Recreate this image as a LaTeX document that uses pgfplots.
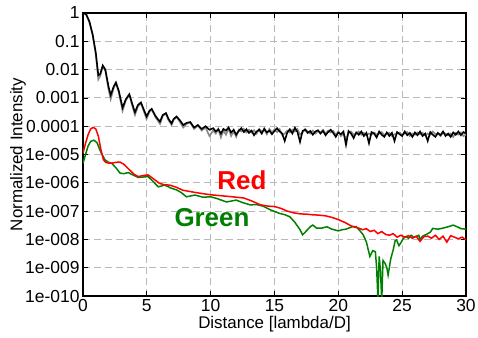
\documentclass[border=0pt]{standalone}
\usepackage{pgfplots}
\pgfplotsset{compat=1.18}
\usepackage{pgfplotstable}
\usepackage{fontspec}
\setmainfont{Liberation Sans}
\definecolor{gridgray}{RGB}{185,185,185}
\definecolor{dgreen}{RGB}{0,128,0}
\definecolor{lgray}{RGB}{135,135,135}

\pgfplotstableread{
x y
0 1
0.25 0.88
0.5 0.48
0.75 0.17
1.0 0.035
1.2 4.5e-3
1.35 6e-3
1.55 1.3e-2
1.75 9e-3
2.0 2e-3
2.17 9e-4
2.4 2.2e-3
2.58 3.3e-3
2.8 1.6e-3
3.1 3.5e-4
3.35 8e-4
3.63 1.3e-3
3.85 5.5e-4
4.07 2.5e-4
4.3 5e-4
4.54 6.5e-4
4.75 3.5e-4
4.98 1.8e-4
5.2 3.2e-4
5.38 3.9e-4
5.7 2e-4
6.03 1.2e-4
6.25 2.3e-4
6.5 2.8e-4
6.7 1.6e-4
6.94 1.1e-4
7.1 1.7e-4
7.33 2.1e-4
7.6 1.4e-4
7.85 9e-5
8.1 1.2e-4
8.4 1.35e-4
8.7 8e-5
9.0 1.05e-4
9.3 7e-5
9.6 9e-5
9.9 4.5e-5
10.2 7e-5
10.4 5.5e-5
10.6 8e-5
10.8 4e-5
11.0 7e-5
11.2 5e-5
11.4 8.5e-5
11.6 4.5e-5
11.8 6.5e-5
12.0 4.2e-5
12.2 7.5e-5
12.4 6.5e-5
12.6 8e-5
12.8 6e-5
13.0 7.5e-5
13.2 6e-5
13.4 7.2e-5
13.6 5.5e-5
13.8 8e-5
14.0 6.5e-5
14.2 7.5e-5
14.4 5.2e-5
14.6 8e-5
14.8 6e-5
15.0 7.5e-5
15.2 6.2e-5
15.4 7.8e-5
15.6 5e-5
15.8 5.5e-5
16.0 7e-5
16.2 6e-5
16.4 7.5e-5
16.6 6.5e-5
16.8 7.8e-5
17.0 5e-5
17.2 6e-5
17.4 8e-5
17.6 6.5e-5
17.8 5.5e-5
18.0 7e-5
18.2 5.5e-5
18.4 6.8e-5
18.6 6e-5
18.8 7.5e-5
19.0 5.5e-5
19.2 7e-5
19.4 6e-5
19.6 6.8e-5
19.8 5e-5
20.0 6.5e-5
20.2 4.5e-5
20.4 5.5e-5
20.6 3.5e-5
20.8 5.8e-5
21.0 6.5e-5
21.2 5e-5
21.4 5.5e-5
21.6 6.5e-5
21.8 5e-5
22.0 5.8e-5
22.2 4.8e-5
22.4 5.5e-5
22.6 5e-5
22.8 6e-5
23.0 5e-5
23.2 5.5e-5
23.4 6.2e-5
23.6 4.8e-5
23.8 5.5e-5
24.0 5.8e-5
24.2 4.5e-5
24.4 5.2e-5
24.6 5.5e-5
24.8 6e-5
25.0 5e-5
25.2 5.5e-5
25.4 6.2e-5
25.6 4.5e-5
25.8 5.5e-5
26.0 5e-5
26.2 6e-5
26.4 5.2e-5
26.6 5.8e-5
26.8 4.8e-5
27.0 5.5e-5
27.2 5e-5
27.4 6.5e-5
27.6 5.2e-5
27.8 5.5e-5
28.0 4.5e-5
28.2 5.8e-5
28.4 5.5e-5
28.6 4.8e-5
28.8 5.5e-5
29.0 4.2e-5
29.2 5.8e-5
29.4 5e-5
29.6 6e-5
29.8 4.5e-5
30.0 5e-5
}\graydata

\pgfplotstableread{
x y
0 1
0.25 0.9
0.5 0.5
0.75 0.18
1.0 0.04
1.2 6.3e-3
1.35 7e-3
1.55 1.4e-2
1.75 1e-2
2.0 2.5e-3
2.17 1.26e-3
2.4 2.5e-3
2.58 3.5e-3
2.8 1.8e-3
3.1 4.5e-4
3.35 8.9e-4
3.63 1.35e-3
3.85 6.3e-4
4.07 3.1e-4
4.3 5.6e-4
4.54 6.9e-4
4.75 4e-4
4.98 2.2e-4
5.2 3.5e-4
5.38 4.1e-4
5.7 2.2e-4
6.03 1.45e-4
6.25 2.5e-4
6.5 2.9e-4
6.7 1.8e-4
6.94 1.26e-4
7.1 1.8e-4
7.33 2.2e-4
7.6 1.6e-4
7.85 1.1e-4
8.1 1.3e-4
8.4 1.4e-4
8.7 9e-5
9.0 1.1e-4
9.3 8e-5
9.6 1e-4
9.9 7.5e-5
10.2 8.5e-5
10.4 6.5e-5
10.6 7.8e-5
10.8 5.5e-5
11.0 8e-5
11.2 7e-5
11.4 9e-5
11.6 6e-5
11.8 7.5e-5
12.0 5e-5
12.2 6.8e-5
12.4 8.5e-5
12.6 6.2e-5
12.8 7.8e-5
13.0 5.8e-5
13.2 7e-5
13.4 4.8e-5
13.6 6.5e-5
13.8 7.5e-5
14.0 5.5e-5
14.2 8.2e-5
14.4 6e-5
14.6 7e-5
14.8 5.2e-5
15.0 6.8e-5
15.2 8.5e-5
15.4 6.5e-5
15.6 5.5e-5
15.8 3e-5
16.0 6e-5
16.2 7.8e-5
16.4 5.5e-5
16.6 8.8e-5
16.8 6.2e-5
17.0 2.8e-5
17.2 6.8e-5
17.4 7.5e-5
17.6 5.8e-5
17.8 6.8e-5
18.0 5e-5
18.2 6.5e-5
18.4 7.2e-5
18.6 5.5e-5
18.8 6.8e-5
19.0 4.8e-5
19.2 6.2e-5
19.4 7.5e-5
19.6 5.8e-5
19.8 4.2e-5
20.0 6e-5
20.2 5.2e-5
20.4 6.5e-5
20.6 2.2e-5
20.8 6.8e-5
21.0 5.5e-5
21.2 3.8e-5
21.4 6e-5
21.6 5e-5
21.8 6.5e-5
22.0 4.5e-5
22.2 5.8e-5
22.4 2.5e-5
22.6 6.2e-5
22.8 5.5e-5
23.0 4e-5
23.2 6.5e-5
23.4 5e-5
23.6 4.2e-5
23.8 6e-5
24.0 4.5e-5
24.2 5.8e-5
24.4 3e-5
24.6 6.2e-5
24.8 5.2e-5
25.0 4.5e-5
25.2 6.5e-5
25.4 4.8e-5
25.6 5.8e-5
25.8 4.2e-5
26.0 6e-5
26.2 4.8e-5
26.4 6.5e-5
26.6 4.5e-5
26.8 5.5e-5
27.0 3e-5
27.2 6.2e-5
27.4 5e-5
27.6 4.2e-5
27.8 5.8e-5
28.0 4.8e-5
28.2 6.5e-5
28.4 4.5e-5
28.6 5.5e-5
28.8 4.2e-5
29.0 6e-5
29.2 5e-5
29.4 6.5e-5
29.6 4.8e-5
29.8 6.2e-5
30.0 5.5e-5
}\blackdata

\pgfplotstableread{
x y
0 1.1e-5
0.2 2.5e-5
0.4 5e-5
0.6 8e-5
0.8 9.1e-5
1.0 8e-5
1.2 4.5e-5
1.4 1.5e-5
1.6 6.5e-6
1.8 5.2e-6
2.0 5e-6
2.3 5e-6
2.6 5.3e-6
2.9 5.4e-6
3.2 4.5e-6
3.6 3e-6
4.0 2e-6
4.33 1.66e-6
4.7 1.8e-6
5.1 1.9e-6
5.5 1.4e-6
6.0 9.5e-7
6.4 8.5e-7
6.8 8.3e-7
7.3 7e-7
7.8 5.5e-7
8.4 4.9e-7
9.0 4.4e-7
9.6 4e-7
10.2 3.7e-7
10.8 3.5e-7
11.4 3.3e-7
12.0 3.1e-7
12.6 2.9e-7
13.2 2.3e-7
13.9 1.66e-7
14.5 1.5e-7
15.0 1.45e-7
15.5 1.25e-7
16.0 1e-7
16.5 8.7e-8
17.0 8e-8
17.5 7.8e-8
18.0 7.4e-8
18.5 7.2e-8
19.0 6.8e-8
19.5 6e-8
20.0 5e-8
20.5 4e-8
21.0 3e-8
21.3 2.7e-8
21.6 2.5e-8
21.9 2.2e-8
22.2 2.4e-8
22.5 1.9e-8
22.8 2.1e-8
23.1 1.6e-8
23.4 1.9e-8
23.7 1.5e-8
24.0 1.4e-8
24.3 1.6e-8
24.6 1.2e-8
24.9 1.4e-8
25.2 1.2e-8
25.5 1.35e-8
25.8 1.1e-8
26.1 1.3e-8
26.4 8.5e-9
26.7 1.25e-8
27.0 1.3e-8
27.3 1.1e-8
27.6 1.4e-8
27.9 1.0e-8
28.2 1.3e-8
28.5 8e-9
28.8 1.35e-8
29.1 1.2e-8
29.4 1.05e-8
29.7 1.2e-8
30.0 9.5e-9
}\reddata

\pgfplotstableread{
x y
0 4.9e-6
0.2 1e-5
0.4 2e-5
0.6 2.9e-5
0.86 3.2e-5
1.1 2.6e-5
1.4 1.2e-5
1.72 6.5e-6
2.0 5.3e-6
2.25 4.9e-6
2.6 3.3e-6
2.9 2.2e-6
3.2 2.1e-6
3.55 2.3e-6
3.9 1.9e-6
4.33 1.55e-6
4.7 1.6e-6
5.1 1.66e-6
5.5 1.1e-6
5.9 7.2e-7
6.4 8.3e-7
6.9 6.5e-7
7.33 5.6e-7
7.7 4.5e-7
8.1 3.2e-7
8.77 3.7e-7
9.4 3.1e-7
10.0 3.2e-7
10.47 2.8e-7
11.25 2.1e-7
12.0 2.45e-7
12.5 2e-7
13.1 1.66e-7
13.6 1.7e-7
14.1 1.5e-7
14.7 1.1e-7
15.4 8.3e-8
15.8 7.5e-8
16.2 6.3e-8
16.6 4e-8
17.0 2.2e-8
17.2 1.45e-8
17.5 2e-8
17.8 2.8e-8
18.0 3.2e-8
18.3 2.5e-8
18.7 2.5e-8
19.1 2.8e-8
19.5 2.3e-8
20.0 2e-8
20.3 2.2e-8
20.6 2.3e-8
20.8 2.5e-8
21.1 2.8e-8
21.4 2.8e-8
21.7 2e-8
21.95 1.45e-8
22.2 8e-9
22.47 2.5e-9
22.7 4e-9
22.9 3.7e-9
23.0 1e-9
23.1 8e-11
23.2 2.5e-9
23.3 8e-10
23.4 7e-11
23.5 1.8e-9
23.65 1.45e-9
23.8 1e-9
23.9 5.5e-10
24.1 2e-9
24.3 4.3e-9
24.45 9e-9
24.56 9.5e-9
24.75 6e-9
24.95 8.3e-9
25.1 1.1e-8
25.3 1.26e-8
25.5 1.1e-8
25.7 1.4e-8
25.9 1.2e-8
26.1 1.26e-8
26.3 1.4e-8
26.4 1e-8
26.6 1.3e-8
26.9 1.5e-8
27.2 1.8e-8
27.4 2.45e-8
27.8 2.3e-8
28.2 2.5e-8
28.6 2.8e-8
29.0 3.2e-8
29.3 2.8e-8
29.6 2.4e-8
30.0 2.3e-8
}\greendata

\begin{document}
\begin{tikzpicture}
\begin{axis}[
  at={(0,0)}, anchor=south west,
  scale only axis,
  width=383bp, height=283bp,
  xmin=0, xmax=30,
  ymode=log, ymin=1e-10, ymax=1,
  xtick={0,5,10,15,20,25,30},
  ytick={1e-10,1e-9,1e-8,1e-7,1e-6,1e-5,1e-4,1e-3,1e-2,1e-1,1},
  yticklabels={1e-010,1e-009,1e-008,1e-007,1e-006,1e-005,0.0001,0.001,0.01,0.1,1},
  yminorticks=false,
  /pgf/number format/assume math mode=true,
  tick label style={font=\fontsize{17.5}{19}\selectfont},
  tick align=inside,
  major tick length=5bp,
  tick style={black, line width=0.8bp},
  axis line style={line width=1.6bp},
  grid=major,
  major grid style={gridgray, line width=1bp, dash pattern=on 7bp off 4bp},
  xlabel={Distance [lambda/D]},
  ylabel={Normalized Intensity},
  label style={font=\fontsize{17}{19}\selectfont},
  xlabel style={at={(axis description cs:0.5,-0.099)}, anchor=center},
  ylabel style={at={(axis description cs:-0.17,0.5)}, anchor=center},
  clip=true,
]
\addplot[lgray, line width=1.6bp] table[x=x,y=y] {\graydata};
\addplot[black, line width=1.6bp] table[x=x,y=y] {\blackdata};
\addplot[dgreen, line width=1.5bp] table[x=x,y=y] {\greendata};
\addplot[red, line width=1.5bp] table[x=x,y=y] {\reddata};
\node[red, font=\fontsize{26}{28}\selectfont\bfseries] at (axis cs:12.45,1.26e-6) {Red};
\node[dgreen, font=\fontsize{26}{28}\selectfont\bfseries] at (axis cs:10.1,5.8e-8) {Green};
\end{axis}
\pgfresetboundingbox
\useasboundingbox (-83bp,-42bp) rectangle (395bp,296bp);
\end{tikzpicture}
\end{document}
